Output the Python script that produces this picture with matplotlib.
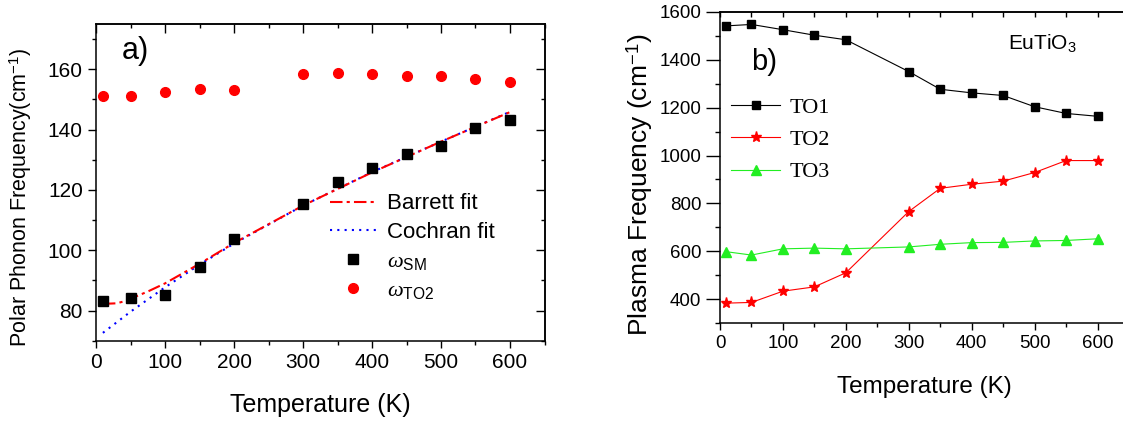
import matplotlib
matplotlib.use("Agg")
import matplotlib.pyplot as plt
from matplotlib.lines import Line2D
from matplotlib.ticker import MultipleLocator

plt.rcParams['font.family'] = ['Liberation Sans', 'DejaVu Sans']
plt.rcParams['mathtext.fontset'] = 'custom'
plt.rcParams['mathtext.rm'] = 'Liberation Sans'
plt.rcParams['mathtext.it'] = 'Liberation Serif:italic'

# ---- panel a) polar phonon frequencies ----
temp_a = [10, 50, 100, 150, 200, 300, 350, 400, 450, 500, 550, 600]
w_sm = [83.3, 84.0, 85.3, 94.5, 103.7, 115.3, 122.7, 127.2, 131.8, 134.5, 140.5, 143.3]
w_to2 = [151.2, 151.2, 152.6, 153.4, 153.1, 158.5, 158.9, 158.5, 157.6, 157.6, 156.7, 155.8]

# fit curves
barrett_t = [10, 20, 30, 40, 50, 75, 100, 150, 200, 300, 400, 500, 600]
barrett_w = [82.4, 82.3, 82.4, 83.0, 83.9, 86.3, 89.0, 95.5, 102.4, 114.8, 125.8, 136.0, 145.8]
cochran_t = [10, 50, 100, 150, 200, 300, 400, 500, 600]
cochran_w = [72.6, 79.6, 87.7, 95.2, 102.2, 114.8, 125.9, 136.0, 145.9]

# ---- panel b) plasma frequencies ----
temp_b = [10, 50, 100, 150, 200, 300, 350, 400, 450, 500, 550, 600]
to1 = [1542, 1548, 1526, 1503, 1484, 1351, 1277, 1262, 1251, 1204, 1176, 1164]
to2 = [383, 386, 433, 451, 510, 766, 863, 880, 893, 929, 979, 979]
to3 = [598, 584, 610, 613, 610, 618, 629, 636, 637, 643, 645, 652]

W, H = 1123, 423
fig = plt.figure(figsize=(W / 100, H / 100), dpi=100)


def px_axes(x0, y0, x1, y1):
    # axes from pixel box (top-left origin)
    return fig.add_axes([x0 / W, 1 - y1 / H, (x1 - x0) / W, (y1 - y0) / H])


def style_axes(ax, xmaj, xmin, ymaj, ymin, lsize, out_len, in_len):
    # out_len / in_len: (major, minor, ...) lengths for bottom+left / top+right
    ax.xaxis.set_major_locator(MultipleLocator(xmaj))
    ax.xaxis.set_minor_locator(MultipleLocator(xmin))
    ax.yaxis.set_major_locator(MultipleLocator(ymaj))
    ax.yaxis.set_minor_locator(MultipleLocator(ymin))
    ax.tick_params(which='both', direction='out', width=1, labelsize=lsize)
    ax.tick_params(axis='x', which='major', length=out_len[0])
    ax.tick_params(axis='x', which='minor', length=out_len[1])
    ax.tick_params(axis='y', which='major', length=out_len[2])
    ax.tick_params(axis='y', which='minor', length=out_len[3])
    for s in ax.spines.values():
        s.set_linewidth(1.1)
    top = ax.secondary_xaxis('top')
    right = ax.secondary_yaxis('right')
    for sec, loc in ((top, 'x'), (right, 'y')):
        axis = sec.xaxis if loc == 'x' else sec.yaxis
        axis.set_major_locator(MultipleLocator(xmaj if loc == 'x' else ymaj))
        axis.set_minor_locator(MultipleLocator(xmin if loc == 'x' else ymin))
        sec.tick_params(which='major', direction='in', length=in_len[0], width=1,
                        labeltop=False, labelright=False)
        sec.tick_params(which='minor', direction='in', length=in_len[1], width=1)
        for s in sec.spines.values():
            s.set_linewidth(1.1)


# panel a
ax1 = px_axes(96, 24, 544.5, 340.7)
ax1.set_xlim(0, 650)
ax1.set_ylim(70, 175)
style_axes(ax1, 100, 50, 20, 10, 15, (5, 3, 6, 3), (6.5, 3))

ax1.plot(cochran_t, cochran_w, color='#0000ff', ls=(0, (1, 2.5)), lw=1.5)
ax1.plot(barrett_t, barrett_w, color='#ff0000', ls=(0, (6, 2, 1.5, 2)), lw=1.5)
ax1.plot(temp_a, w_sm, 's', color='black', ms=6.5, ls='none')
ax1.plot(temp_a, w_to2, 'o', color='#ff0000', ms=7, ls='none')

ax1.set_xlabel('Temperature (K)', fontsize=18)
ax1.set_ylabel('Polar Phonon Frequency(cm$^{-1}$)', fontsize=15.5)
ax1.xaxis.set_label_coords(0.5, -0.165)
ax1.yaxis.set_label_coords(-0.138, 0.454)
ax1.text(0.058, 0.915, 'a)', transform=ax1.transAxes, fontsize=22, va='center')

h_a = [
    Line2D([], [], color='#ff0000', ls=(0, (6, 2, 1.5, 2)), lw=1.5),
    Line2D([], [], color='#0000ff', ls=(0, (1, 2.5)), lw=1.5),
    Line2D([], [], marker='s', color='black', ms=6.5, ls='none'),
    Line2D([], [], marker='o', color='#ff0000', ms=7, ls='none'),
]
l_a = [r'Barrett fit', r'Cochran fit', r'$\omega_{\mathrm{SM}}$', r'$\omega_{\mathrm{TO2}}$']
ax1.legend(h_a, l_a, loc='upper left', bbox_to_anchor=(0.522, 0.465), frameon=False,
           fontsize=16, handlelength=2.07, handletextpad=0.47, labelspacing=0.35,
           borderpad=0, borderaxespad=0)

# panel b
ax2 = px_axes(720, 12, 1129, 323)
ax2.set_xlim(0, 650)
ax2.set_ylim(300, 1600)
style_axes(ax2, 100, 50, 200, 100, 13.5, (5, 3, 10, 3.6), (3.6, 3.6))

ax2.plot(temp_b, to1, '-s', color='black', ms=5.5, lw=0.8)
ax2.plot(temp_b, to2, '-*', color='#ff0000', ms=8, lw=0.8)
ax2.plot(temp_b, to3, '-^', color='#22ee22', ms=7, lw=0.8)

ax2.set_xlabel('Temperature (K)', fontsize=17.5)
ax2.set_ylabel('Plasma Frequency (cm$^{-1}$)', fontsize=19)
ax2.xaxis.set_label_coords(0.5, -0.172)
ax2.yaxis.set_label_coords(-0.158, 0.444)
ax2.text(0.075, 0.84, 'b)', transform=ax2.transAxes, fontsize=21, va='center')
ax2.text(0.705, 0.9, r'EuTiO$_3$', transform=ax2.transAxes, fontsize=15, va='center')

h_b = [
    Line2D([], [], marker='s', color='black', ms=5.5, lw=0.8),
    Line2D([], [], marker='*', color='#ff0000', ms=8, lw=0.8),
    Line2D([], [], marker='^', color='#22ee22', ms=7, lw=0.8),
]
ax2.legend(h_b, ['TO1', 'TO2', 'TO3'], loc='upper left', bbox_to_anchor=(0.028, 0.725),
           frameon=False, prop={'family': 'Liberation Serif', 'size': 16},
           handlelength=2.2, handletextpad=0.4, labelspacing=0.52, numpoints=1,
           borderpad=0, borderaxespad=0)

fig.savefig('out.png', dpi=100)
